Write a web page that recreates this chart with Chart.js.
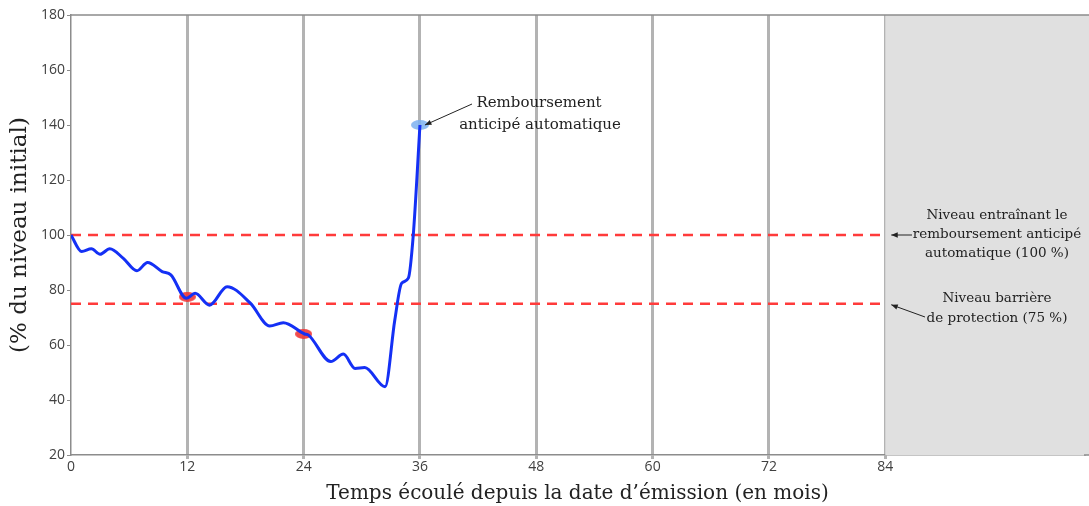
<!DOCTYPE html>
<html>
<head>
<meta charset="utf-8">
<script src="https://cdn.jsdelivr.net/npm/chart.js@4.4.1/dist/chart.umd.min.js"></script>
<style>
  html, body { margin: 0; padding: 0; background: #fff; }
  #wrap { width: 1089px; height: 506px; }
</style>
</head>
<body>
<div id="wrap"><canvas id="myLineChart"></canvas></div>
<script>
// months since issue and underlying level (% of initial level)
var months = [0, 1.1, 2.1, 3, 4, 5.4, 6.8, 7.9, 9.4, 10.3, 11.9, 12.8, 14.3, 16.1, 18.5, 20.5, 21.9, 24.1, 24.5, 26.8, 28.1, 29.3, 30.3, 32.4, 33.4, 34.1, 34.8, 35.3, 36];
var levels = [100, 94, 95, 93, 95, 91.5, 87, 90, 86.7, 85.5, 77, 78.8, 74.5, 81.2, 75.2, 66.9, 68.1, 64, 63.6, 54, 56.7, 51.5, 51.8, 44.8, 69, 82.4, 84.3, 99.6, 140];

var observationMonths = [12, 24];
var observationLevels = [77.5, 64];
var redemptionMonth = [36];
var redemptionLevel = [140];

var autocallLevel = 100;
var barrierLevel = 75;
var lastMonth = 84;

var xTicks = [0, 12, 24, 36, 48, 60, 72, 84];
var yTicks = [20, 40, 60, 80, 100, 120, 140, 160, 180];

var serif = "'DejaVu Serif', serif";
var sans = "'Open Sans', sans-serif";

function ellipse(w, h, color) {
    var c = document.createElement('canvas');
    c.width = w; c.height = h;
    var g = c.getContext('2d');
    g.fillStyle = color;
    g.beginPath();
    g.ellipse(w / 2, h / 2, w / 2, h / 2, 0, 0, Math.PI * 2);
    g.fill();
    return c;
}

function pts(xs, ys) {
    return xs.map(function (x, i) { return {x: x, y: ys[i]}; });
}

function arrow(ctx, x1, y1, x2, y2) {
    var a = Math.atan2(y2 - y1, x2 - x1), L = 7;
    ctx.beginPath();
    ctx.moveTo(x1, y1); ctx.lineTo(x2, y2);
    ctx.stroke();
    ctx.beginPath();
    ctx.moveTo(x2, y2);
    ctx.lineTo(x2 - L * Math.cos(a - 0.4), y2 - L * Math.sin(a - 0.4));
    ctx.lineTo(x2 - L * Math.cos(a + 0.4), y2 - L * Math.sin(a + 0.4));
    ctx.closePath();
    ctx.fill();
}

// grey zone after maturity + top frame line (run to the canvas edge)
var background = {
    id: 'background',
    beforeDatasetsDraw: function (chart) {
        var ctx = chart.ctx, a = chart.chartArea, x = chart.scales.x;
        ctx.save();
        ctx.fillStyle = '#e0e0e0';
        var x0 = x.getPixelForValue(lastMonth);
        ctx.fillRect(x0, a.top, chart.width - x0, a.bottom - a.top);
        ctx.restore();
    },
    afterDraw: function (chart) {
        var ctx = chart.ctx, a = chart.chartArea;
        ctx.save();
        ctx.strokeStyle = '#8c8c8c';
        ctx.lineWidth = 1.5;
        ctx.beginPath();
        ctx.moveTo(a.left, a.top); ctx.lineTo(chart.width, a.top);
        ctx.moveTo(a.right, a.bottom); ctx.lineTo(chart.width, a.bottom);
        ctx.stroke();
        ctx.restore();
    }
};

// text notes with arrows
var notes = {
    id: 'notes',
    afterDraw: function (chart) {
        var ctx = chart.ctx, x = chart.scales.x, y = chart.scales.y;
        ctx.save();
        ctx.fillStyle = '#222';
        ctx.strokeStyle = '#222';
        ctx.lineWidth = 1;
        ctx.textAlign = 'center';
        ctx.textBaseline = 'middle';

        ctx.font = '15px ' + serif;
        ctx.fillText('Remboursement', 539, 103);
        ctx.fillText('anticipé automatique', 540, 125);
        arrow(ctx, 472, 104, x.getPixelForValue(36) + 5, y.getPixelForValue(140));

        var xm = x.getPixelForValue(lastMonth);
        ctx.font = '13.5px ' + serif;
        ctx.fillText('Niveau entraînant le', 997, 215);
        ctx.fillText('remboursement anticipé', 997, 234);
        ctx.fillText('automatique (100 %)', 997, 253);
        arrow(ctx, 912, 235, xm + 6, y.getPixelForValue(autocallLevel));

        ctx.fillText('Niveau barrière', 997, 298);
        ctx.fillText('de protection (75 %)', 997, 318);
        arrow(ctx, 925, 317, xm + 6, y.getPixelForValue(barrierLevel) + 1);
        ctx.restore();
    }
};

new Chart(document.getElementById('myLineChart'), {
    type: 'line',
    data: {
        datasets: [{
            label: 'Niveau',
            data: pts(months, levels),
            borderColor: '#1430f5',
            borderWidth: 3,
            pointRadius: 0,
            cubicInterpolationMode: 'monotone',
            fill: false,
            order: 1
        }, {
            label: 'Observations',
            data: pts(observationMonths, observationLevels),
            pointStyle: ellipse(17, 10, 'rgba(240,55,55,0.9)'),
            showLine: false,
            order: 2
        }, {
            label: 'Remboursement',
            data: pts(redemptionMonth, redemptionLevel),
            pointStyle: ellipse(18, 10, 'rgba(125,178,240,0.85)'),
            showLine: false,
            order: 2
        }, {
            label: '100 %',
            data: pts([0, lastMonth], [autocallLevel, autocallLevel]),
            borderColor: '#ff3b3b',
            borderWidth: 2.5,
            borderDash: [10, 7],
            pointRadius: 0,
            order: 3
        }, {
            label: '75 %',
            data: pts([0, lastMonth], [barrierLevel, barrierLevel]),
            borderColor: '#ff3b3b',
            borderWidth: 2.5,
            borderDash: [10, 7],
            pointRadius: 0,
            order: 3
        }]
    },
    options: {
        responsive: true,
        maintainAspectRatio: false,
        animation: false,
        layout: { padding: { top: 15, right: 0, left: 0, bottom: 0 } },
        scales: {
            x: {
                type: 'linear',
                min: 0,
                max: 104.5,
                afterFit: function (s) { s.height = 51; },
                afterBuildTicks: function (s) {
                    s.ticks = xTicks.map(function (v) { return {value: v}; });
                },
                border: { color: '#8c8c8c', width: 1.5 },
                grid: {
                    color: function (c) { return c.tick && c.tick.value > 0 ? '#b3b3b3' : 'rgba(0,0,0,0)'; },
                    lineWidth: 3,
                    tickLength: 4
                },
                ticks: { color: '#404040', font: { family: sans, size: 14 }, padding: 0, maxRotation: 0 },
                title: {
                    display: true,
                    text: 'Temps écoulé depuis la date d’émission (en mois)',
                    color: '#222',
                    font: { family: serif, size: 20 },
                    padding: 0
                }
            },
            y: {
                min: 20,
                max: 180,
                afterFit: function (s) { s.width = 71; },
                afterBuildTicks: function (s) {
                    s.ticks = yTicks.map(function (v) { return {value: v}; });
                },
                border: { color: '#8c8c8c', width: 1.5 },
                grid: { drawOnChartArea: false, color: '#8c8c8c', tickLength: 4 },
                ticks: { color: '#404040', font: { family: sans, size: 14 }, padding: 2 },
                title: {
                    display: true,
                    text: '(% du niveau initial)',
                    color: '#222',
                    font: { family: serif, size: 23 },
                    padding: { top: 6 }
                }
            }
        },
        plugins: {
            legend: { display: false },
            tooltip: { enabled: false }
        }
    },
    plugins: [background, notes]
});
</script>
</body>
</html>
